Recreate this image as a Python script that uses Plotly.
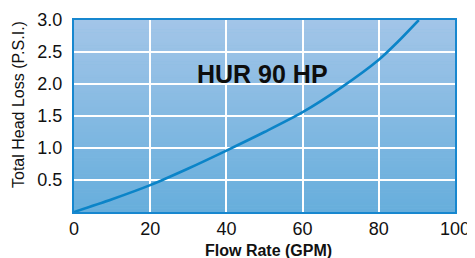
import plotly.graph_objects as go

# Data
flow_gpm = [0, 10, 20, 30, 40, 50, 60, 70, 80, 85, 90.5]
head_loss_psi = [0, 0.2, 0.42, 0.68, 0.96, 1.25, 1.56, 1.94, 2.38, 2.66, 3.0]
x_ticks = [0, 20, 40, 60, 80, 100]
y_ticks = [0.5, 1.0, 1.5, 2.0, 2.5, 3.0]
y_tick_labels = ["0.5", "1.0", "1.5", "2.0", "2.5", "3.0"]
chart_title = "HUR 90 HP"
x_title = "Flow Rate (GPM)"
y_title = "Total Head Loss (P.S.I.)"

FONT = "Liberation Sans, Arial, sans-serif"

fig = go.Figure()
fig.add_trace(go.Scatter(
    x=flow_gpm, y=head_loss_psi, mode="lines",
    line=dict(color="#0b84c8", width=2.6, shape="spline", smoothing=0.8),
    cliponaxis=True, showlegend=False, hoverinfo="skip",
))

# vertical gradient background (light top -> darker bottom)
top = (163, 197, 232)
bot = (102, 174, 220)
N = 60
shapes = []
for i in range(N):
    t = (i + 0.5) / N
    c = tuple(round(bot[k] + (top[k] - bot[k]) * t) for k in range(3))
    shapes.append(dict(
        type="rect", xref="x domain", yref="y domain",
        x0=0, x1=1, y0=i / N, y1=(i + 1) / N + 0.002,
        fillcolor="rgb(%d,%d,%d)" % c, line=dict(width=0), layer="below",
    ))

# page body has an 8px margin, so the figure is shifted; compensate
fig.update_layout(
    width=467, height=250,
    margin=dict(l=66, r=20, t=12, b=46, autoexpand=False),
    paper_bgcolor="white", plot_bgcolor="rgb(133,186,226)",
    font=dict(family=FONT, color="#111"),
    shapes=shapes,
    annotations=[
        dict(text="<b>%s</b>" % chart_title, xref="paper", yref="paper",
             x=0.496, y=0.72, xanchor="center", yanchor="middle", showarrow=False,
             font=dict(size=25, color="#0d0d0d")),
        dict(text="<b>%s</b>" % x_title, xref="paper", yref="paper",
             x=0.51, y=-0.2, xanchor="center", yanchor="middle", showarrow=False,
             font=dict(size=16, color="#111")),
        dict(text=y_title, xref="paper", yref="paper", textangle=-90,
             x=-0.147, y=0.5625, xanchor="center", yanchor="middle", showarrow=False,
             font=dict(size=16, color="#111")),
    ],
)
fig.update_xaxes(
    range=[0, 100], tickvals=x_ticks, ticks="", showgrid=True, automargin=False,
    gridcolor="white", gridwidth=2, zeroline=False,
    showline=True, linecolor="#1787cf", linewidth=2, mirror=True,
    tickfont=dict(size=18, family=FONT, color="#111"), ticklabelstandoff=-1,
)
fig.update_yaxes(
    range=[0, 3.0], tickvals=y_ticks, ticktext=y_tick_labels, ticks="", automargin=False,
    showgrid=True, gridcolor="white", gridwidth=2, zeroline=False,
    showline=True, linecolor="#1787cf", linewidth=2, mirror=True,
    tickfont=dict(size=18, family=FONT, color="#111"), ticklabelstandoff=6,
)

fig.write_html("out.html")
